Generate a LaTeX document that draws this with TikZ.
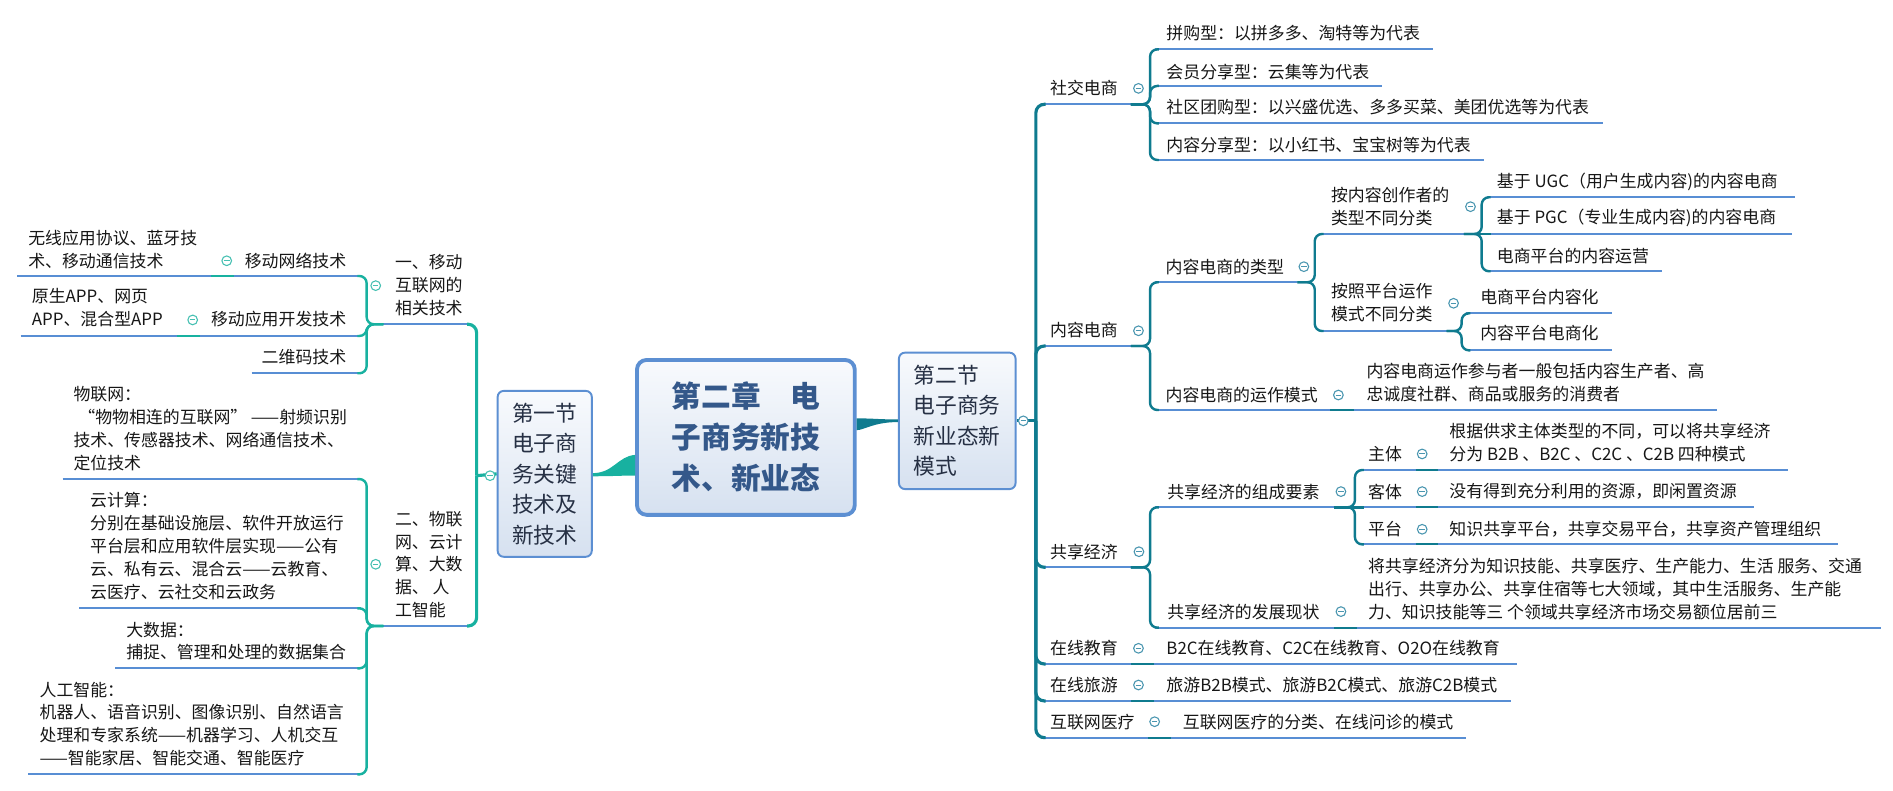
\documentclass[tikz,border=0pt]{standalone}
\usepackage{fontspec}
\setmainfont{Noto Sans CJK SC}
\usetikzlibrary{calc}

\definecolor{ublue}{RGB}{88,142,212}
\definecolor{tealL}{RGB}{24,177,160}
\definecolor{tealR}{RGB}{15,123,143}
\definecolor{foldcL}{RGB}{70,192,178}
\definecolor{foldcR}{RGB}{74,150,176}
\definecolor{boxline}{RGB}{92,143,210}
\definecolor{boxtop}{RGB}{248,250,253}
\definecolor{boxbot}{RGB}{214,225,240}
\definecolor{roottxt}{RGB}{52,88,138}
\definecolor{sectxt}{RGB}{38,48,68}
\definecolor{bodytxt}{RGB}{22,22,22}

\tikzset{
  txt/.style={inner sep=0pt, align=left, text=bodytxt, font=\fontsize{14}{19}\selectfont},
  uline/.style={draw=ublue, line width=1.7pt},
  tstubL/.style={draw=tealL, line width=1.7pt},
  tstubR/.style={draw=tealR, line width=1.7pt},
  brkL/.style={draw=tealL, line width=2pt, rounded corners=6pt},
  brkL0/.style={draw=tealL, line width=2.6pt, rounded corners=7pt},
  brkR/.style={draw=tealR, line width=2pt, rounded corners=6pt},
  brkR0/.style={draw=tealR, line width=2.6pt, rounded corners=7pt},
  foldmark/.style={circle, draw=#1, fill=white, line width=0.9pt, minimum size=8pt, inner sep=0pt,
    path picture={\draw[#1, line width=0.8pt] ([xshift=-2.3pt]path picture bounding box.center) -- ([xshift=2.3pt]path picture bounding box.center);}},
  rootbox/.style={draw=boxline, line width=3.2pt, rounded corners=8pt, top color=boxtop, bottom color=boxbot,
    text=roottxt, font=\fontsize{24.6}{34}\selectfont\bfseries, align=center, inner sep=0pt},
  secbox/.style={draw=boxline, line width=1.6pt, rounded corners=5pt, top color=boxtop, bottom color=boxbot,
    text=sectxt, font=\fontsize{18}{25.3}\selectfont, align=left, inner sep=0pt}
}

\begin{document}
\begin{tikzpicture}[x=1pt, y=-1pt]
  \useasboundingbox (0,0) rectangle (1568,655);

  % centre and the two section boxes
  \node[rootbox, minimum width=180.4pt, minimum height=128.3pt] (root) at (617.8,362.3) {第二章　电\\子商务新技\\术、新业态};
  \node[secbox, minimum width=78pt, minimum height=137.4pt] (secL) at (451.2,392.5) {第一节\\电子商\\务关键\\技术及\\新技术};
  \node[secbox, minimum width=96.6pt, minimum height=113pt] (secR) at (792.9,348.6) {第二节\\电子商务\\新业态新\\模式};

  % tapered main branches
  \fill[tealL] ($(root.west)+(0,14.5)$) .. controls +(-14,1) and +(17,0) .. ($(secL.east)+(0,-0.6)$)
    -- ($(secL.east)+(0,2)$) .. controls +(17,0) and +(-12,0) .. ($(root.west)+(0,31.6)$) -- cycle;
  \fill[tealR] ($(root.east)+(0,-15.8)$) .. controls +(18,0.2) and +(-18,0) .. ($(secR.west)+(0,-1.2)$)
    -- ($(secR.west)+(0,1)$) .. controls +(-20,0) and +(6,0) .. ($(root.east)+(0,-6)$) -- cycle;

  % ---------- left side ----------
  \node[txt, anchor=west] (l1a) at (327,236.5) {一、移动\\互联网的\\相关技术};
  \node[txt, anchor=west] (l1b) at (327,467.6) {二、物联\\网、云计\\算、大数\\据、 人\\工智能};
  \node[txt, anchor=east] (mnet) at (287,216) {移动网络技术};
  \node[txt, anchor=west] (mnetx) at (23.2,206.5) {无线应用协议、蓝牙技\\术、移动通信技术};
  \node[txt, anchor=east] (mapp) at (287,264.5) {移动应用开发技术};
  \node[txt, anchor=west] (mappx) at (26.2,255.1) {原生APP、网页\\APP、混合型APP};
  \node[txt, anchor=east] (qrc) at (287,295.4) {二维码技术};
  \node[txt, anchor=west] (iot) at (60.7,354.8) {物联网：\\\hspace{4pt}“物物相连的互联网”\hspace{3pt}——射频识别\\技术、传感器技术、网络通信技术、\\定位技术};
  \node[txt, anchor=west] (cloud) at (74.5,452.3) {云计算：\\分别在基础设施层、软件开放运行\\平台层和应用软件层实现——公有\\云、私有云、混合云——云教育、\\云医疗、云社交和云政务};
  \node[txt, anchor=west] (bigd) at (104.4,531) {大数据：\\捕捉、管理和处理的数据集合};
  \node[txt, anchor=west] (ai) at (32.6,599.7) {人工智能：\\机器人、语音识别、图像识别、自然语言\\处理和专家系统——机器学习、人机交互\\——智能家居、智能交通、智能医疗};

  % underlines
  \draw[uline] (14.4,228.6) -- (299,228.6);
  \draw[uline] (17.1,278.3) -- (299,278.3);
  \draw[uline] (208.5,309.2) -- (299,309.2);
  \draw[uline] (51.9,396.8) -- (299,396.8);
  \draw[uline] (65.7,503.9) -- (299,503.9);
  \draw[uline] (95.3,553.6) -- (299,553.6);
  \draw[uline] (23.4,641.4) -- (299,641.4);
  \draw[uline] (317.5,268.6) -- (390,268.6);
  \draw[uline] (317.5,518.5) -- (390,518.5);
  \draw[tstubL] (174.5,228.6) -- (194,228.6);
  \draw[tstubL] (146.4,278.3) -- (165.7,278.3);

  % brackets
  \coordinate (hubL) at (394.8,394);
  \foreach \y in {228.6,278.3,309.2}
    \draw[brkL] (317.5,268.6) -- (303.7,268.6) |- (296,\y);
  \foreach \y in {396.8,503.9,553.6,641.4}
    \draw[brkL] (317.5,518.5) -- (303.7,518.5) |- (296,\y);
  \foreach \y in {268.6,518.5}
    \draw[brkL0] (hubL) |- (387,\y);
  \draw[brkL0] (hubL) -- (secL.west);

  \foreach \x/\y [count=\i] in {405.9/394, 311.2/236.6, 311.2/467.4, 187.8/216, 159.6/265}
    \node[foldmark=foldcL] (fl\i) at (\x,\y) {};

  % ---------- right side ----------
  \node[txt, anchor=west] (social) at (869.6,73.2) {社交电商};
  \node[txt, anchor=west] (content) at (869.6,273.3) {内容电商};
  \node[txt, anchor=west] (sharing) at (869.6,457) {共享经济};
  \node[txt, anchor=west] (edu) at (869.6,537) {在线教育};
  \node[txt, anchor=west] (travel) at (869.6,567.4) {在线旅游};
  \node[txt, anchor=west] (health) at (869.6,597.8) {互联网医疗};

  \node[txt, anchor=west] (s1) at (966,27.6) {拼购型：以拼多多、淘特等为代表};
  \node[txt, anchor=west] (s2) at (966,59.4) {会员分享型：云集等为代表};
  \node[txt, anchor=west] (s3) at (966,88.9) {社区团购型：以兴盛优选、多多买菜、美团优选等为代表};
  \node[txt, anchor=west] (s4) at (966,120.1) {内容分享型：以小红书、宝宝树等为代表};

  \node[txt, anchor=west] (ctype) at (965.3,220.9) {内容电商的类型};
  \node[txt, anchor=west] (ccreator) at (1102.3,171.2) {按内容创作者的\\类型不同分类};
  \node[txt, anchor=west] (ugc) at (1239.7,150.5) {基于 UGC（用户生成内容)的内容电商};
  \node[txt, anchor=west] (pgc) at (1239.7,180.8) {基于 PGC（专业生成内容)的内容电商};
  \node[txt, anchor=west] (ops) at (1239.7,212) {电商平台的内容运营};
  \node[txt, anchor=west] (cplat) at (1102.3,250.8) {按照平台运作\\模式不同分类};
  \node[txt, anchor=west] (platc) at (1225.9,245.7) {电商平台内容化};
  \node[txt, anchor=west] (contc) at (1225.9,276) {内容平台电商化};
  \node[txt, anchor=west] (cmode) at (965.3,327.2) {内容电商的运作模式};
  \node[txt, anchor=west] (cmodex) at (1131.7,317.1) {内容电商运作参与者一般包括内容生产者、高\\忠诚度社群、商品或服务的消费者};

  \node[txt, anchor=west] (comp) at (966.7,407.2) {共享经济的组成要素};
  \node[txt, anchor=west] (subj) at (1133,376) {主体};
  \node[txt, anchor=west] (subjx) at (1200.4,366.8) {根据供求主体类型的不同，可以将共享经济\\分为 B2B 、B2C 、C2C 、C2B 四种模式};
  \node[txt, anchor=west] (obj) at (1133,407.2) {客体};
  \node[txt, anchor=west] (objx) at (1200.4,407.2) {没有得到充分利用的资源，即闲置资源};
  \node[txt, anchor=west] (plat) at (1133,438.4) {平台};
  \node[txt, anchor=west] (platx) at (1200.4,438.4) {知识共享平台，共享交易平台，共享资产管理组织};
  \node[txt, anchor=west] (dev) at (966.7,506.6) {共享经济的发展现状};
  \node[txt, anchor=west] (devx) at (1133,487.7) {将共享经济分为知识技能、共享医疗、生产能力、生活 服务、交通\\出行、共享办公、共享住宿等七大领域，其中生活服务、生产能\\力、知识技能等三 个领域共享经济市场交易额位居前三};

  \node[txt, anchor=west] (edux) at (966,537) {B2C在线教育、C2C在线教育、O2O在线教育};
  \node[txt, anchor=west] (travelx) at (966,567.4) {旅游B2B模式、旅游B2C模式、旅游C2B模式};
  \node[txt, anchor=west] (healthx) at (979.6,597.8) {互联网医疗的分类、在线问诊的模式};

  % underlines
  \foreach \y in {86.4,286.6,469.9,550,580.6}
    \draw[uline] (862,\y) -- (936.8,\y);
  \draw[uline] (862,611) -- (951,611);
  \draw[uline] (955.8,550) -- (1256.3,550);
  \draw[uline] (955.8,580.6) -- (1251.5,580.6);
  \draw[uline] (970,611) -- (1214,611);
  \draw[tstubR] (936.8,550) -- (955.8,550);
  \draw[tstubR] (936.8,580.6) -- (955.8,580.6);
  \draw[tstubR] (951,611) -- (970,611);

  \draw[uline] (956.6,40.9) -- (1186.6,40.9);
  \draw[uline] (956.6,71.2) -- (1144.5,71.2);
  \draw[uline] (956.6,102.2) -- (1327.4,102.2);
  \draw[uline] (956.6,132.5) -- (1229,132.5);

  \draw[uline] (956.6,233.8) -- (1074.7,233.8);
  \draw[uline] (956.6,339.6) -- (1102,339.6);
  \draw[uline] (1121.3,339.6) -- (1422,339.6);
  \draw[tstubR] (1102,339.6) -- (1121.3,339.6);
  \draw[uline] (1093,193.8) -- (1212.5,193.8);
  \draw[uline] (1093,274.2) -- (1198.3,274.2);
  \draw[uline] (1231.3,163.4) -- (1486.8,163.4);
  \draw[uline] (1231.3,193.8) -- (1484,193.8);
  \draw[uline] (1231.3,224.7) -- (1377,224.7);
  \draw[uline] (1214.7,259.5) -- (1335,259.5);
  \draw[uline] (1214.7,290.2) -- (1335,290.2);

  \draw[uline] (956.6,420.2) -- (1105,420.2);
  \draw[uline] (956.6,519.9) -- (1105,519.9);
  \draw[uline] (1123.7,519.9) -- (1558,519.9);
  \draw[tstubR] (1105,519.9) -- (1123.7,519.9);
  \foreach \y/\e in {389.3/1480.7, 420.2/1452.8, 450.9/1522.6} {
    \draw[uline] (1126.3,\y) -- (1172.5,\y);
    \draw[uline] (1191,\y) -- (\e,\y);
    \draw[tstubR] (1172.5,\y) -- (1191,\y);
  }

  % brackets
  \coordinate (hubR) at (858,348.6);
  \draw[brkR0] (secR.east) -- (hubR);
  \foreach \y in {86.4,286.6,469.9,550,580.6,611}
    \draw[brkR0] (hubR) |- (866,\y);
  \foreach \y in {40.9,71.2,102.2,132.5}
    \draw[brkR] (936.8,86.4) -- (952.6,86.4) |- (960,\y);
  \foreach \y in {233.8,339.6}
    \draw[brkR] (936.8,286.6) -- (952.6,286.6) |- (960,\y);
  \foreach \y in {193.8,274.2}
    \draw[brkR] (1074.7,233.8) -- (1089,233.8) |- (1096.4,\y);
  \foreach \y in {163.4,224.7}
    \draw[brkR] (1212.5,193.8) -- (1227.3,193.8) |- (1234.7,\y);
  \draw[brkR] (1212.5,193.8) -- (1234.7,193.8);
  \foreach \y in {259.5,290.2}
    \draw[brkR] (1198.3,274.2) -- (1210.7,274.2) |- (1218,\y);
  \foreach \y in {420.2,519.9}
    \draw[brkR] (936.8,469.9) -- (952.6,469.9) |- (960,\y);
  \foreach \y in {389.3,450.9}
    \draw[brkR] (1105,420.2) -- (1122.3,420.2) |- (1129.7,\y);
  \draw[brkR] (1105,420.2) -- (1129.7,420.2);

  \foreach \x/\y [count=\i] in {847.6/348.6, 943/73.2, 943/274, 943.4/457, 943/537, 943/567.4, 956.4/597.8,
      1080/220.9, 1218/171.2, 1204/251.2, 1108.6/327.2, 1110.7/407.2, 1178/376, 1178/407.2, 1178/438.4, 1110.7/506.6}
    \node[foldmark=foldcR] (fr\i) at (\x,\y) {};
\end{tikzpicture}
\end{document}
